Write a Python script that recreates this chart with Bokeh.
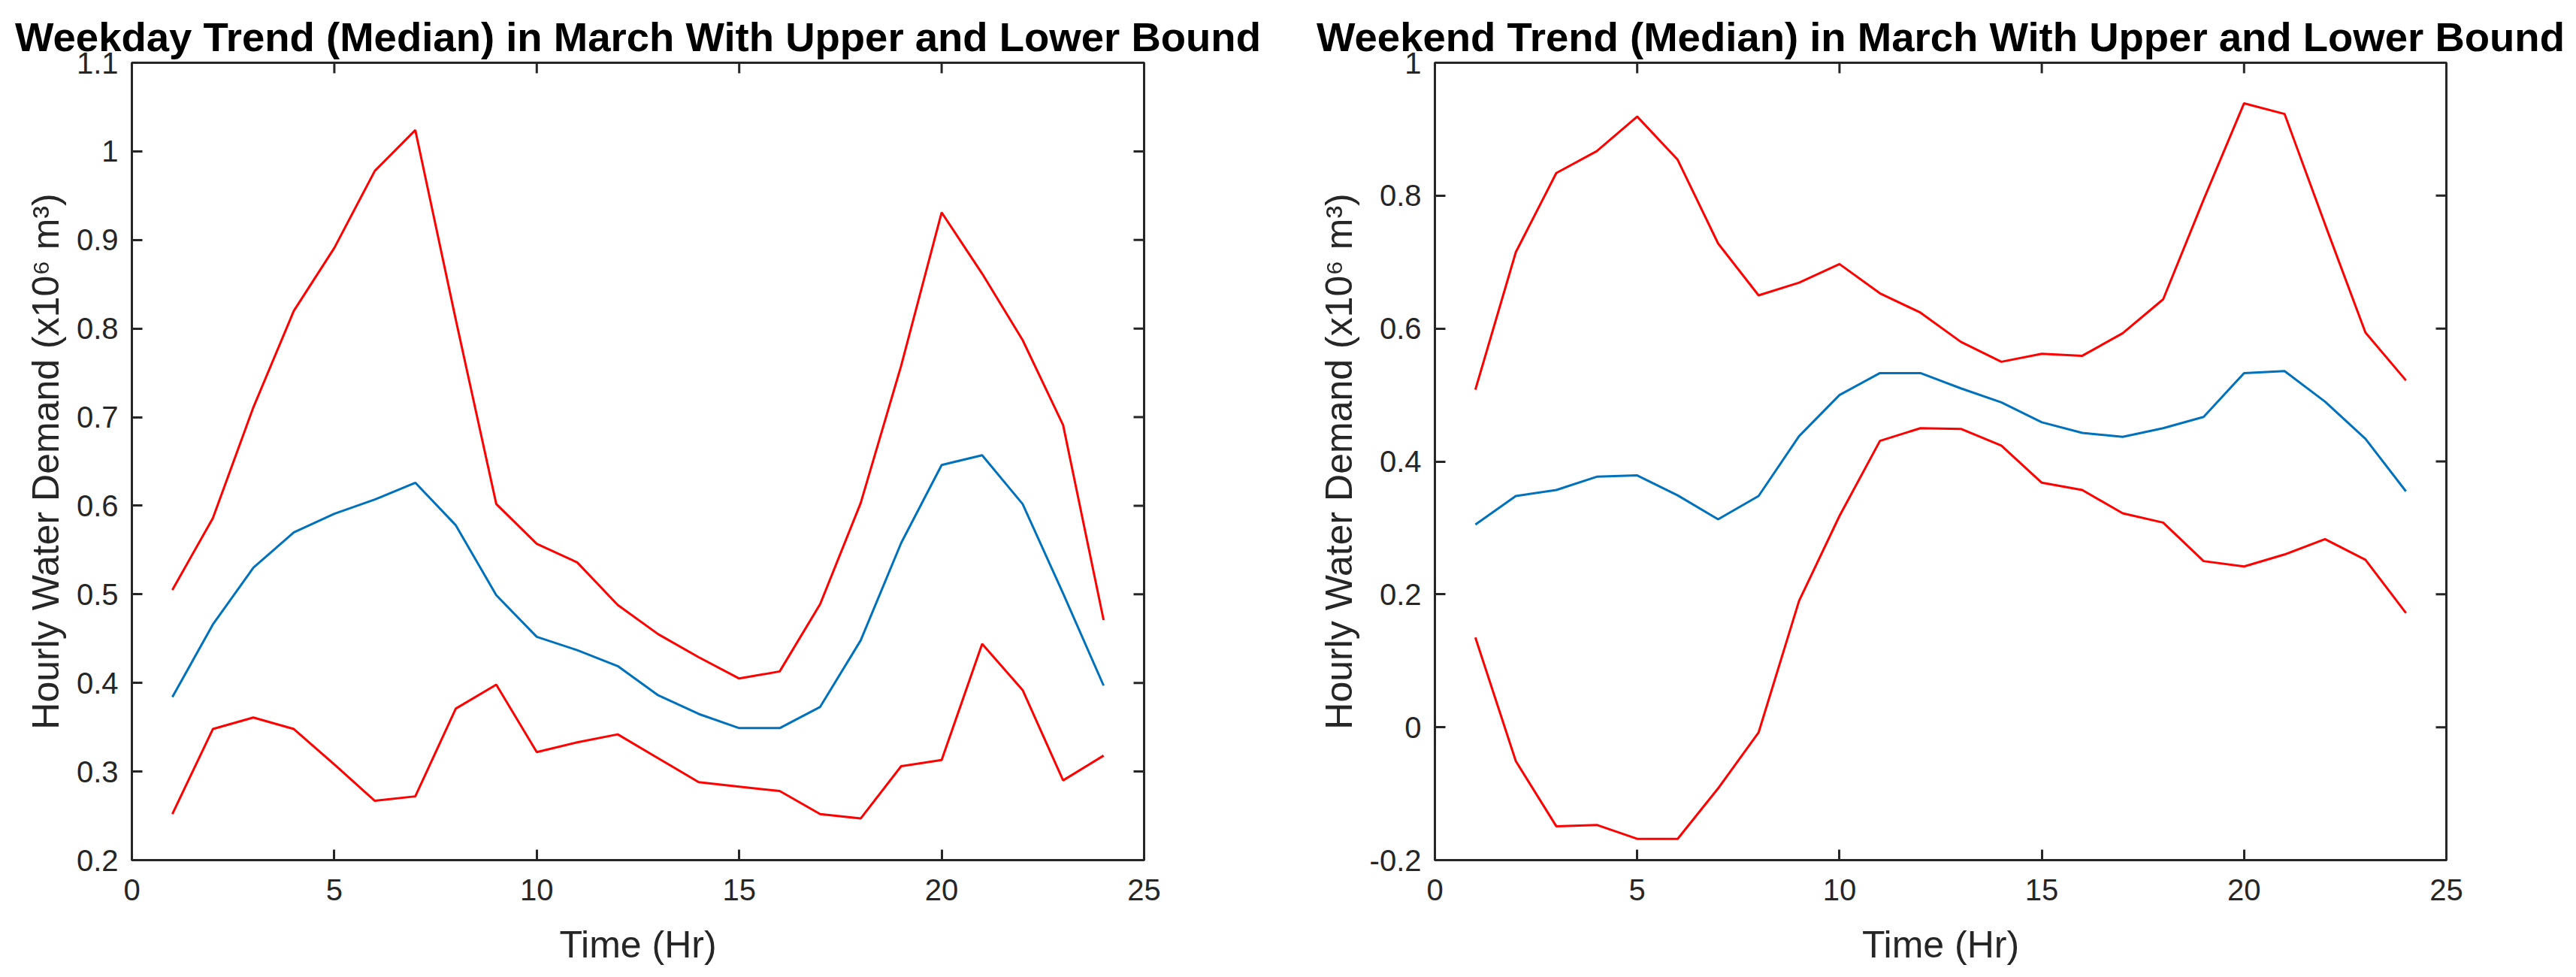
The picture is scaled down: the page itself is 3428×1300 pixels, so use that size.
import math
from bokeh.plotting import figure
from bokeh.models import Range1d, FixedTicker
from bokeh.layouts import row
from bokeh.embed import file_html
from bokeh.resources import INLINE

# ---------------- data ----------------
hours = list(range(1, 25))

weekday_upper = [0.505, 0.586, 0.711, 0.820, 0.891, 0.978, 1.024, 0.810, 0.602, 0.557, 0.536, 0.488,
                 0.455, 0.429, 0.405, 0.413, 0.489, 0.603, 0.758, 0.931, 0.862, 0.787, 0.691, 0.471]
weekday_median = [0.384, 0.466, 0.530, 0.570, 0.591, 0.607, 0.626, 0.578, 0.499, 0.452, 0.437, 0.419,
                  0.386, 0.365, 0.349, 0.349, 0.373, 0.448, 0.558, 0.646, 0.657, 0.602, 0.501, 0.397]
weekday_lower = [0.252, 0.348, 0.361, 0.348, 0.308, 0.267, 0.272, 0.371, 0.398, 0.322, 0.333, 0.342,
                 0.315, 0.288, 0.283, 0.278, 0.252, 0.247, 0.306, 0.313, 0.444, 0.392, 0.290, 0.318]

weekend_upper = [0.508, 0.715, 0.834, 0.867, 0.919, 0.854, 0.728, 0.650, 0.669, 0.697, 0.653, 0.624,
                 0.580, 0.550, 0.562, 0.559, 0.593, 0.644, 0.794, 0.939, 0.923, 0.757, 0.594, 0.522]
weekend_median = [0.305, 0.348, 0.357, 0.377, 0.379, 0.349, 0.313, 0.348, 0.438, 0.500, 0.533, 0.533,
                  0.510, 0.489, 0.459, 0.443, 0.437, 0.450, 0.467, 0.533, 0.536, 0.490, 0.434, 0.355]
weekend_lower = [0.135, -0.051, -0.149, -0.147, -0.168, -0.168, -0.092, -0.008, 0.190, 0.318, 0.431, 0.450,
                 0.449, 0.424, 0.368, 0.357, 0.322, 0.308, 0.250, 0.242, 0.260, 0.283, 0.252, 0.172]

x_ticks = [0, 5, 10, 15, 20, 25]
weekday_y_ticks = [0.2, 0.3, 0.4, 0.5, 0.6, 0.7, 0.8, 0.9, 1.0, 1.1]
weekday_y_labels = ["0.2", "0.3", "0.4", "0.5", "0.6", "0.7", "0.8", "0.9", "1", "1.1"]
weekend_y_ticks = [-0.2, 0.0, 0.2, 0.4, 0.6, 0.8, 1.0]
weekend_y_labels = ["-0.2", "0", "0.2", "0.4", "0.6", "0.8", "1"]

weekday_title = "Weekday Trend (Median) in March With Upper and Lower Bound"
weekend_title = "Weekend Trend (Median) in March With Upper and Lower Bound"
x_label = "Time (Hr)"
y_label = "Hourly Water Demand (x10\u2076 m\u00b3)"

FONT = "Liberation Sans"
AX = "#262626"
RED = "#FF0000"
BLUE = "#0072BD"


def style_axis(ax):
    ax.axis_line_color = AX
    ax.axis_line_width = 3
    ax.major_tick_line_color = AX
    ax.major_tick_line_width = 3
    ax.major_tick_in = 14
    ax.major_tick_out = 0
    ax.minor_tick_line_color = None
    ax.major_label_text_font = FONT
    ax.major_label_text_color = AX
    ax.major_label_text_font_size = "40px"
    ax.axis_label_text_font = FONT
    ax.axis_label_text_font_size = "50px"
    ax.axis_label_text_font_style = "normal"
    ax.axis_label_text_color = AX


def make_fig(title, yticks, ylabels, yrange, upper, median, lower, width, bl, br):
    p = figure(width=width, height=1298, output_backend="svg", toolbar_location=None,
               x_range=Range1d(0, 25), y_range=Range1d(*yrange),
               min_border_left=bl, min_border_right=br, min_border_top=83, min_border_bottom=154)
    p.title.text = title
    p.title.text_font = FONT
    p.title.text_font_size = "54.5px"
    p.title.text_font_style = "bold"
    p.title.text_color = "#000000"
    p.title.align = "center"
    p.title.standoff = 8
    p.grid.visible = False
    p.outline_line_color = AX
    p.outline_line_width = 3
    p.background_fill_color = "white"
    p.border_fill_color = "white"

    p.xaxis.ticker = FixedTicker(ticks=x_ticks)
    p.yaxis.ticker = FixedTicker(ticks=yticks)
    p.yaxis.major_label_overrides = {t: l for t, l in zip(yticks, ylabels)}
    style_axis(p.xaxis[0])
    style_axis(p.yaxis[0])
    p.xaxis.major_label_standoff = 25
    p.yaxis.major_label_standoff = 18
    p.xaxis.axis_label = x_label
    p.yaxis.axis_label = y_label
    p.xaxis.axis_label_standoff = 28
    p.yaxis.axis_label_standoff = 10

    # inward tick marks on the top and right edges of the box (clipped to frame)
    p.scatter(x_ticks, [yrange[1]] * len(x_ticks), marker="dash", size=28, angle=math.pi / 2,
              line_color=AX, line_width=3)
    p.scatter([25] * len(yticks), yticks, marker="dash", size=28,
              line_color=AX, line_width=3)

    p.line(hours, upper, line_color=RED, line_width=3)
    p.line(hours, median, line_color=BLUE, line_width=3)
    p.line(hours, lower, line_color=RED, line_width=3)
    return p


p1 = make_fig(weekday_title, weekday_y_ticks, weekday_y_labels, (0.2, 1.1),
              weekday_upper, weekday_median, weekday_lower, 1745, 175, 223)
p2 = make_fig(weekend_title, weekend_y_ticks, weekend_y_labels, (-0.2, 1.0),
              weekend_upper, weekend_median, weekend_lower, 1675, 164, 165)

layout = row(p1, p2)
open("out.html", "w").write(file_html(layout, INLINE))
